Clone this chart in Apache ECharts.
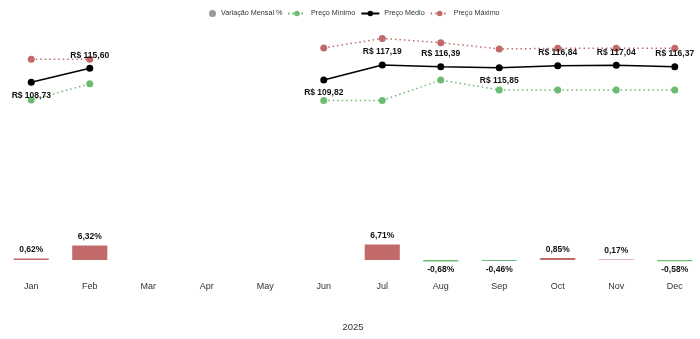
<!DOCTYPE html>
<html>
<head>
<meta charset="utf-8">
<script src="https://cdn.jsdelivr.net/npm/echarts@6/dist/echarts.min.js"></script>
<style>
  html, body { margin: 0; padding: 0; background: #fff; }
  #chart { width: 700px; height: 339px; }
</style>
</head>
<body>
<div id="chart"></div>
<script>
// Monthly price series for 2025 (R$) and month-over-month change (%)
const months = ['Jan', 'Feb', 'Mar', 'Apr', 'May', 'Jun', 'Jul', 'Aug', 'Sep', 'Oct', 'Nov', 'Dec'];
const yearLabel = '2025';
const variacaoMensal = [0.62, 6.32, null, null, null, null, 6.71, -0.68, -0.46, 0.85, 0.17, -0.58];
const precoMinimo = [99.9, 107.9, null, null, null, 99.7, 99.7, 109.8, 104.9, 104.9, 104.9, 104.9];
const precoMedio = [108.73, 115.60, null, null, null, 109.82, 117.19, 116.39, 115.85, 116.84, 117.04, 116.37];
const precoMaximo = [120.0, 120.0, null, null, null, 125.6, 130.3, 128.2, 125.1, 125.4, 125.4, 125.4];

const RED = '#C26A6A';
const GREEN = '#6DBB72';
const FONT = '"Liberation Sans", Arial, sans-serif';

// label placement for the average-price labels
const avgLabelSide = ['bottom', 'top', null, null, null, 'bottom', 'top', 'top', 'bottom', 'top', 'top', 'top'];

const fmtBRL = v => 'R$ ' + v.toFixed(2).replace('.', ',');
const fmtPct = v => v.toFixed(2).replace('.', ',') + '%';

const chart = echarts.init(document.getElementById('chart'), null, { renderer: 'canvas' });

const barData = variacaoMensal.map(v => v === null ? null : {
  value: v,
  itemStyle: { color: v >= 0 ? RED : GREEN },
  label: { position: v >= 0 ? 'top' : 'bottom' }
});

const avgData = precoMedio.map((v, i) => v === null ? null : {
  value: v,
  label: { position: avgLabelSide[i] }
});

const legendText = { fontSize: 7.2, color: '#333', fontFamily: FONT };

chart.setOption({
  animation: false,
  textStyle: { fontFamily: FONT },
  legend: [
    {
      top: 5,
      left: 204,
      itemWidth: 7,
      itemHeight: 7,
      textStyle: legendText,
      data: [{ name: 'Variação Mensal %', icon: 'circle', itemStyle: { color: '#999' } }]
    },
    {
      top: 5,
      left: 282,
      itemGap: 5,
      itemWidth: 18,
      itemHeight: 7,
      textStyle: legendText,
      data: ['Preço Mínimo', 'Preço Médio', 'Preço Máximo']
    }
  ],
  grid: { left: 2, width: 702, top: 20, height: 253, outerBoundsMode: 'none', containLabel: false },
  xAxis: {
    type: 'category',
    data: months,
    name: yearLabel,
    nameLocation: 'middle',
    nameGap: 49,
    nameTextStyle: { fontSize: 9.5, color: '#333', fontFamily: FONT },
    axisLine: { show: false },
    axisTick: { show: false },
    axisLabel: { fontSize: 9, color: '#333', margin: 9, fontFamily: FONT }
  },
  yAxis: [
    { type: 'value', min: 14.7, max: 139.37, show: false, splitLine: { show: false } },
    { type: 'value', min: -5.65, max: 104.3, show: false, splitLine: { show: false } }
  ],
  series: [
    {
      name: 'Variação Mensal %',
      type: 'bar',
      yAxisIndex: 1,
      barWidth: '60%',
      data: barData,
      itemStyle: { color: '#999' },
      label: {
        show: true,
        distance: 4,
        fontSize: 8.5,
        fontWeight: 'bold',
        color: '#111',
        fontFamily: FONT,
        formatter: p => fmtPct(p.value)
      }
    },
    {
      name: 'Preço Mínimo',
      type: 'line',
      yAxisIndex: 0,
      data: precoMinimo,
      symbol: 'circle',
      symbolSize: 7,
      itemStyle: { color: GREEN },
      lineStyle: { color: GREEN, width: 1.5, type: [1.5, 3] },
      connectNulls: false
    },
    {
      name: 'Preço Médio',
      type: 'line',
      yAxisIndex: 0,
      data: avgData,
      symbol: 'circle',
      symbolSize: 7,
      itemStyle: { color: '#000' },
      lineStyle: { color: '#000', width: 1.5 },
      connectNulls: false,
      label: {
        show: true,
        distance: 5,
        fontSize: 8.5,
        fontWeight: 'bold',
        color: '#111',
        fontFamily: FONT,
        formatter: p => fmtBRL(p.value)
      },
      z: 5
    },
    {
      name: 'Preço Máximo',
      type: 'line',
      yAxisIndex: 0,
      data: precoMaximo,
      symbol: 'circle',
      symbolSize: 7,
      itemStyle: { color: RED },
      lineStyle: { color: RED, width: 1.5, type: [1.5, 3] },
      connectNulls: false
    }
  ]
});
</script>
</body>
</html>
